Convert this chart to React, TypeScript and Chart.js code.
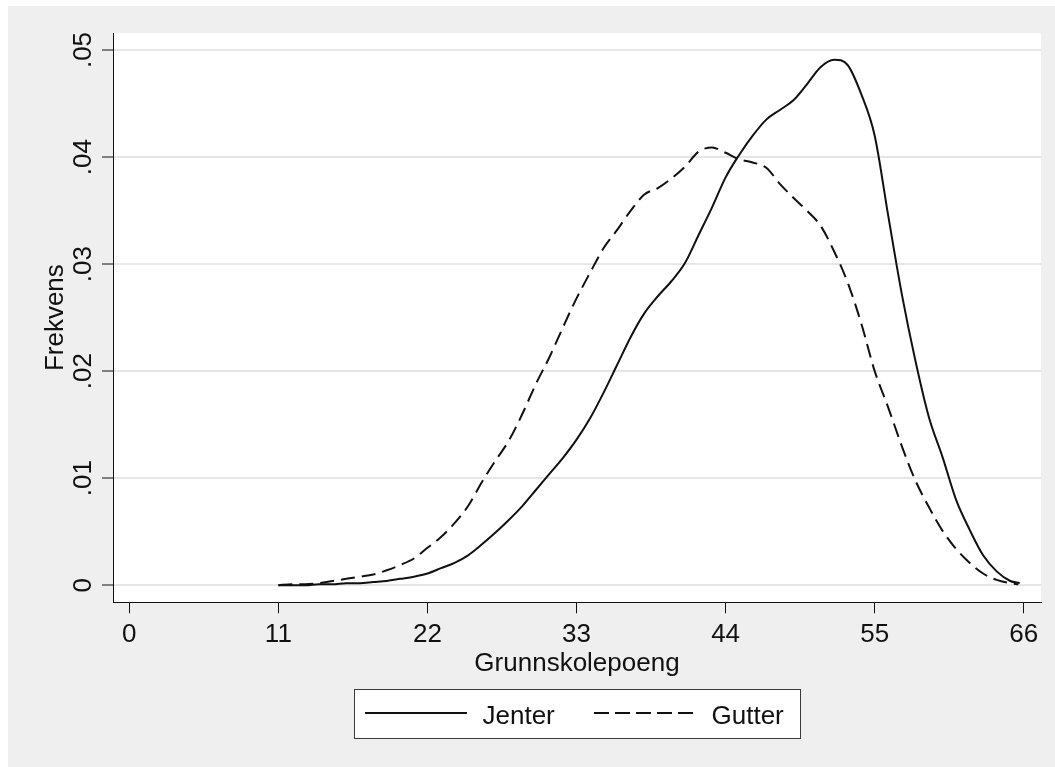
import React, { useEffect, useRef } from "react";
import { Chart, registerables } from "chart.js";

Chart.register(...registerables);

// ---- Data ----
const jenterX = [11, 12, 13, 14, 15, 16, 17, 18, 19, 20, 21, 22, 23, 24, 25, 26, 27, 28, 29, 30, 31, 32, 33, 34, 35, 36, 37, 38, 39, 40, 41, 42, 43, 44, 45, 46, 47, 48, 49, 50, 51, 52, 53, 54, 55, 56, 57, 58, 59, 60, 61, 62, 63, 64, 65, 65.7];
const jenterY = [0.0000, 0.0000, 0.0000, 0.0001, 0.0001, 0.0002, 0.0002, 0.0003, 0.0004, 0.0006, 0.0008, 0.0011, 0.0016, 0.0021, 0.0028, 0.0038, 0.0049, 0.0061, 0.0074, 0.0089, 0.0104, 0.0119, 0.0136, 0.0156, 0.0180, 0.0206, 0.0232, 0.0254, 0.0270, 0.0284, 0.0301, 0.0327, 0.0353, 0.0381, 0.0402, 0.0420, 0.0435, 0.0444, 0.0453, 0.0468, 0.0484, 0.0491, 0.0486, 0.0459, 0.0420, 0.0345, 0.0272, 0.0210, 0.0157, 0.0120, 0.0080, 0.0052, 0.0028, 0.0013, 0.0004, 0.0002];

const gutterX = [11, 12, 13, 14, 15, 16, 17, 18, 19, 20, 21, 22, 23, 24, 25, 26, 27, 28, 29, 30, 31, 32, 33, 34, 35, 36, 37, 38, 39, 40, 41, 42, 43, 44, 45, 46, 47, 48, 49, 50, 51, 52, 53, 54, 55, 56, 57, 58, 59, 60, 61, 62, 63, 64, 65, 65.6];
const gutterY = [0.0000, 0.0001, 0.0001, 0.0002, 0.0004, 0.0006, 0.0008, 0.0010, 0.0014, 0.0019, 0.0025, 0.0035, 0.0045, 0.0058, 0.0074, 0.0096, 0.0116, 0.0135, 0.0160, 0.0188, 0.0213, 0.0241, 0.0268, 0.0292, 0.0315, 0.0332, 0.0350, 0.0365, 0.0371, 0.0380, 0.0391, 0.0405, 0.0409, 0.0404, 0.0398, 0.0395, 0.0390, 0.0375, 0.0362, 0.0350, 0.0336, 0.0312, 0.0283, 0.0245, 0.0200, 0.0166, 0.0130, 0.0098, 0.0073, 0.0051, 0.0034, 0.0021, 0.0011, 0.0005, 0.0002, 0.0001];

const seriesLabels = ["Jenter", "Gutter"];
const xTicks = [0, 11, 22, 33, 44, 55, 66];
const yTicks = [0, 0.01, 0.02, 0.03, 0.04, 0.05];
const yTickLabels = ["0", ".01", ".02", ".03", ".04", ".05"];
const xTitle = "Grunnskolepoeng";
const yTitle = "Frekvens";

// ---- Styling ----
const FONT_FAMILY = "'Liberation Sans', Arial, Helvetica, sans-serif";
const FONT_SIZE = 26;
const FONT = `${FONT_SIZE}px ${FONT_FAMILY}`;
const BG = "#efefef";
const GRID = "#e6e6e6";
const INK = "#111111";
const W = 1047;
const H = 761;
const SOLID: number[] = [];
const DASH = [14, 7];

const overlay = {
  id: "overlay",
  beforeDraw(chart: any) {
    const { ctx, chartArea } = chart;
    ctx.save();
    ctx.fillStyle = BG;
    ctx.fillRect(0, 0, chart.width, chart.height);
    ctx.fillStyle = "#ffffff";
    ctx.fillRect(chartArea.left, chartArea.top, chartArea.right - chartArea.left, chartArea.bottom - chartArea.top);
    ctx.restore();
  },
  afterDraw(chart: any) {
    const { ctx, chartArea, scales } = chart;
    const ys = scales.y;
    const cx = (chartArea.left + chartArea.right) / 2;
    const cy = (chartArea.top + chartArea.bottom) / 2;
    ctx.save();
    ctx.fillStyle = INK;
    ctx.font = FONT;

    // rotated y tick labels
    yTicks.forEach((v, i) => {
      const py = ys.getPixelForValue(v);
      ctx.save();
      ctx.translate(chartArea.left - 22.3, py);
      ctx.rotate(-Math.PI / 2);
      ctx.textAlign = "center";
      ctx.textBaseline = "alphabetic";
      ctx.fillText(yTickLabels[i], 0, 0);
      ctx.restore();
    });

    // y title
    ctx.save();
    ctx.translate(chartArea.left - 50, cy);
    ctx.rotate(-Math.PI / 2);
    ctx.textAlign = "center";
    ctx.textBaseline = "alphabetic";
    ctx.fillText(yTitle, 0, 0);
    ctx.restore();

    // x title
    ctx.textAlign = "center";
    ctx.textBaseline = "alphabetic";
    ctx.fillText(xTitle, cx, chartArea.bottom + 68.7);

    // legend
    const boxW = 446;
    const boxTop = chartArea.bottom + 86.7;
    const boxH = 49;
    const bx = cx - boxW / 2;
    ctx.fillStyle = "#ffffff";
    ctx.fillRect(bx, boxTop, boxW, boxH);
    ctx.strokeStyle = "#3a3a3a";
    ctx.lineWidth = 1;
    ctx.strokeRect(Math.round(bx) + 0.5, Math.round(boxTop) + 0.5, boxW, boxH);

    const ly = boxTop + 24;
    const items = [
      { x0: bx + 11, x1: bx + 113, tx: bx + 128.5, dash: SOLID },
      { x0: bx + 240, x1: bx + 342, tx: bx + 357.5, dash: [15, 6] },
    ];
    items.forEach((it, i) => {
      ctx.save();
      ctx.strokeStyle = INK;
      ctx.lineWidth = 2;
      ctx.setLineDash(it.dash);
      ctx.beginPath();
      ctx.moveTo(it.x0, ly);
      ctx.lineTo(it.x1, ly);
      ctx.stroke();
      ctx.restore();
      ctx.fillStyle = INK;
      ctx.textAlign = "left";
      ctx.textBaseline = "alphabetic";
      ctx.fillText(seriesLabels[i], it.tx, ly + 11);
    });
    ctx.restore();
  },
};

export default function App() {
  const canvasRef = useRef<HTMLCanvasElement | null>(null);

  useEffect(() => {
    const canvas = canvasRef.current;
    if (!canvas) return;
    const chart = new Chart(canvas, {
      type: "line",
      data: {
        datasets: [
          {
            label: seriesLabels[0],
            data: jenterX.map((x, i) => ({ x, y: jenterY[i] })),
            borderColor: INK,
            borderWidth: 2,
            pointRadius: 0,
            tension: 0.4,
            cubicInterpolationMode: "monotone",
            fill: false,
          },
          {
            label: seriesLabels[1],
            data: gutterX.map((x, i) => ({ x, y: gutterY[i] })),
            borderColor: INK,
            borderWidth: 2,
            borderDash: DASH,
            pointRadius: 0,
            tension: 0.4,
            cubicInterpolationMode: "monotone",
            fill: false,
          },
        ],
      },
      options: {
        responsive: false,
        animation: false,
        devicePixelRatio: 1,
        layout: { padding: { top: 27, right: 14, bottom: 0, left: 0 } },
        plugins: {
          legend: { display: false },
          tooltip: { enabled: false },
        },
        scales: {
          x: {
            type: "linear",
            min: -1.2,
            max: 67.27,
            afterBuildTicks: (s: any) => {
              s.ticks = xTicks.map((v) => ({ value: v }));
            },
            afterFit: (s: any) => {
              s.height = H - 596.3;
            },
            grid: {
              display: true,
              drawOnChartArea: false,
              drawTicks: true,
              tickLength: 11,
              tickColor: INK,
              tickWidth: 1,
              color: INK,
            },
            border: { display: true, color: INK, width: 1 },
            ticks: {
              autoSkip: false,
              maxRotation: 0,
              minRotation: 0,
              padding: 6,
              color: INK,
              font: { family: FONT_FAMILY, size: FONT_SIZE },
              callback: (v: any) => String(v),
            },
          },
          y: {
            type: "linear",
            min: -0.00159,
            max: 0.05159,
            afterBuildTicks: (s: any) => {
              s.ticks = yTicks.map((v) => ({ value: v }));
            },
            afterFit: (s: any) => {
              s.width = 105;
            },
            grid: {
              display: true,
              drawOnChartArea: true,
              drawTicks: true,
              tickLength: 11,
              tickColor: INK,
              tickWidth: 1,
              color: GRID,
              lineWidth: 2,
            },
            border: { display: true, color: INK, width: 1 },
            ticks: { display: false },
          },
        },
      },
      plugins: [overlay],
    } as any);
    return () => chart.destroy();
  }, []);

  return (
    <div style={{ position: "fixed", left: 8, top: 6, width: W, height: H, background: BG }}>
      <canvas ref={canvasRef} width={W} height={H} style={{ display: "block", width: W, height: H }} />
    </div>
  );
}
